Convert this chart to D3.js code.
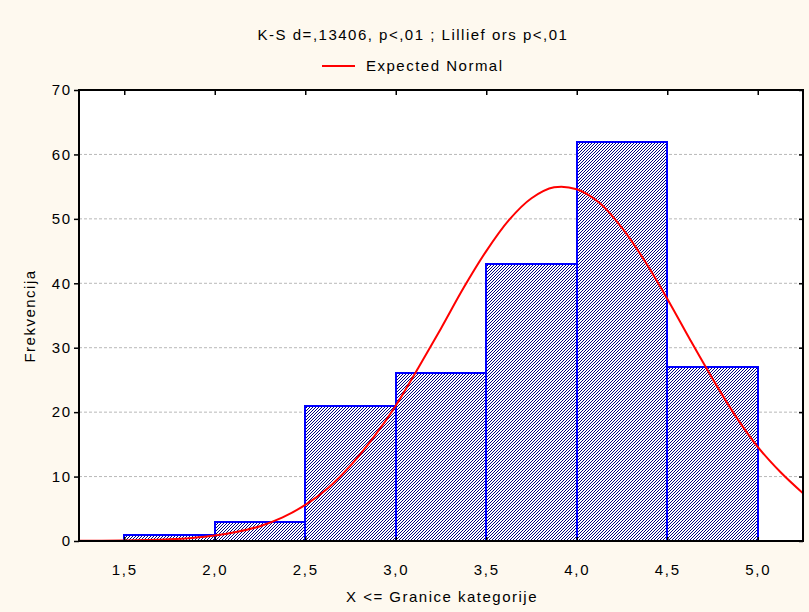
<!DOCTYPE html>
<html><head><meta charset="utf-8">
<script src="https://cdn.jsdelivr.net/npm/d3@7"></script>
<style>body{margin:0;background:#fef9ef;}svg{display:block;font-family:"Liberation Sans",Arial,sans-serif;}</style>
</head><body>
<script>
const binEdges = [1.5, 2.0, 2.5, 3.0, 3.5, 4.0, 4.5, 5.0];
const counts = [1, 3, 21, 26, 43, 62, 27];
const xTicks = [1.5, 2.0, 2.5, 3.0, 3.5, 4.0, 4.5, 5.0];
const yTicks = [0, 10, 20, 30, 40, 50, 60, 70];
const curveX = [1.25,1.375,1.5,1.625,1.75,1.875,2.0,2.125,2.25,2.375,2.5,2.625,2.75,2.875,3.0,3.125,3.25,3.375,3.5,3.625,3.75,3.875,4.0,4.125,4.25,4.375,4.5,4.625,4.75,4.875,5.0,5.125,5.25];
const curveY = [0.02,0.04,0.07,0.14,0.26,0.48,0.84,1.43,2.3,3.66,5.6,8.2,11.7,16.0,21.0,26.9,33.0,39.3,45.0,49.8,53.2,54.9,54.6,52.5,48.6,43.5,37.6,31.3,25.2,19.5,14.6,10.7,7.4];
const titleText = "K-S d=,13406, p<,01 ; Lillief ors p<,01";
const legendText = "Expected Normal";
const xTitle = "X <= Granice kategorije";
const yTitle = "Frekvencija";

const W = 809, H = 612;
const L = 79, R = 803, T = 90, B = 541;
const svg = d3.select("body").append("svg").attr("width", W).attr("height", H);
svg.append("rect").attr("width", W).attr("height", H).attr("fill", "#fef9ef");

const defs = svg.append("defs");
const pat = defs.append("pattern").attr("id", "hatch").attr("patternUnits", "userSpaceOnUse")
  .attr("width", 3).attr("height", 3);
pat.append("rect").attr("width", 3).attr("height", 3).attr("fill", "#ffffff");
[[0, 2], [1, 1], [2, 0]].forEach(p => pat.append("rect").attr("x", p[0]).attr("y", p[1])
  .attr("width", 1).attr("height", 1).attr("fill", "#000080").attr("shape-rendering", "crispEdges"));
defs.append("clipPath").attr("id", "clip").append("rect").attr("x", L).attr("y", T).attr("width", R - L).attr("height", B - T);

const x = d3.scaleLinear().domain([1.25, 5.25]).range([L, R]);
const y = d3.scaleLinear().domain([0, 70]).range([B, T]);

svg.append("rect").attr("x", L).attr("y", T).attr("width", R - L).attr("height", B - T).attr("fill", "#ffffff");

// grid
svg.append("g").selectAll("line").data(yTicks.filter(d => d > 0 && d < 70)).join("line")
  .attr("x1", L).attr("x2", R).attr("y1", d => y(d)).attr("y2", d => y(d))
  .attr("stroke", "#b8b8b8").attr("stroke-width", 1).attr("stroke-dasharray", "3,2");

// bars
const bars = counts.map((c, i) => ({x0: binEdges[i], x1: binEdges[i + 1], c}));
svg.append("g").selectAll("rect").data(bars).join("rect")
  .attr("x", d => Math.round(x(d.x0))).attr("y", d => Math.round(y(d.c)))
  .attr("width", d => Math.round(x(d.x1)) - Math.round(x(d.x0))).attr("height", d => Math.round(y(0)) - Math.round(y(d.c)))
  .attr("fill", "url(#hatch)").attr("stroke", "#0000ff").attr("stroke-width", 2);

// curve
const pts = curveX.map((v, i) => [v, curveY[i]]);
svg.append("path").datum(pts).attr("clip-path", "url(#clip)")
  .attr("d", d3.line().x(d => x(d[0])).y(d => y(d[1])).curve(d3.curveCatmullRom))
  .attr("fill", "none").attr("stroke", "#ff0000").attr("stroke-width", 2);

// frame
svg.append("rect").attr("x", L).attr("y", T).attr("width", R - L).attr("height", B - T)
  .attr("fill", "none").attr("stroke", "#000").attr("stroke-width", 2);

const FF = "Liberation Sans, Arial, sans-serif";
const fmt = d => d.toFixed(1).replace(".", ",");
// x axis
const xa = svg.append("g").attr("transform", `translate(0,${B})`)
  .call(d3.axisBottom(x).tickValues(xTicks).tickFormat(fmt).tickSize(-4).tickPadding(23));
xa.select(".domain").remove();
xa.selectAll("line").attr("stroke", "#000").attr("stroke-width", 1.5);
xa.selectAll("text").attr("font-size", 15).attr("letter-spacing", 1.8).attr("fill", "#000").attr("font-family", FF);
const xt = svg.append("g").attr("transform", `translate(0,${T})`)
  .call(d3.axisTop(x).tickValues(xTicks).tickFormat("").tickSize(-5));
xt.select(".domain").remove();
xt.selectAll("line").attr("stroke", "#000").attr("stroke-width", 1.5);

// y axis
const ya = svg.append("g").attr("transform", `translate(${L},0)`)
  .call(d3.axisLeft(y).tickValues(yTicks).tickSize(5).tickPadding(2));
ya.select(".domain").remove();
ya.selectAll("line").attr("stroke", "#000").attr("stroke-width", 1.5);
ya.selectAll("text").attr("font-size", 15).attr("letter-spacing", 1.8).attr("fill", "#000").attr("font-family", FF);
const yr = svg.append("g").attr("transform", `translate(${R},0)`)
  .call(d3.axisRight(y).tickValues(yTicks).tickFormat("").tickSize(-4));
yr.select(".domain").remove();
yr.selectAll("line").attr("stroke", "#000").attr("stroke-width", 1.5);

// titles
const txt = (sel) => sel.attr("font-size", 15).attr("letter-spacing", 1.5).attr("fill", "#000");
txt(svg.append("text").attr("x", 413).attr("y", 40).attr("text-anchor", "middle")).text(titleText);
svg.append("line").attr("x1", 322).attr("x2", 355).attr("y1", 66).attr("y2", 66).attr("stroke", "#ff0000").attr("stroke-width", 2);
txt(svg.append("text").attr("x", 366).attr("y", 71)).text(legendText);
txt(svg.append("text").attr("x", 442).attr("y", 602).attr("text-anchor", "middle")).text(xTitle);
txt(svg.append("text").attr("transform", "translate(35,316) rotate(-90)").attr("text-anchor", "middle")).text(yTitle);
</script>
</body></html>
